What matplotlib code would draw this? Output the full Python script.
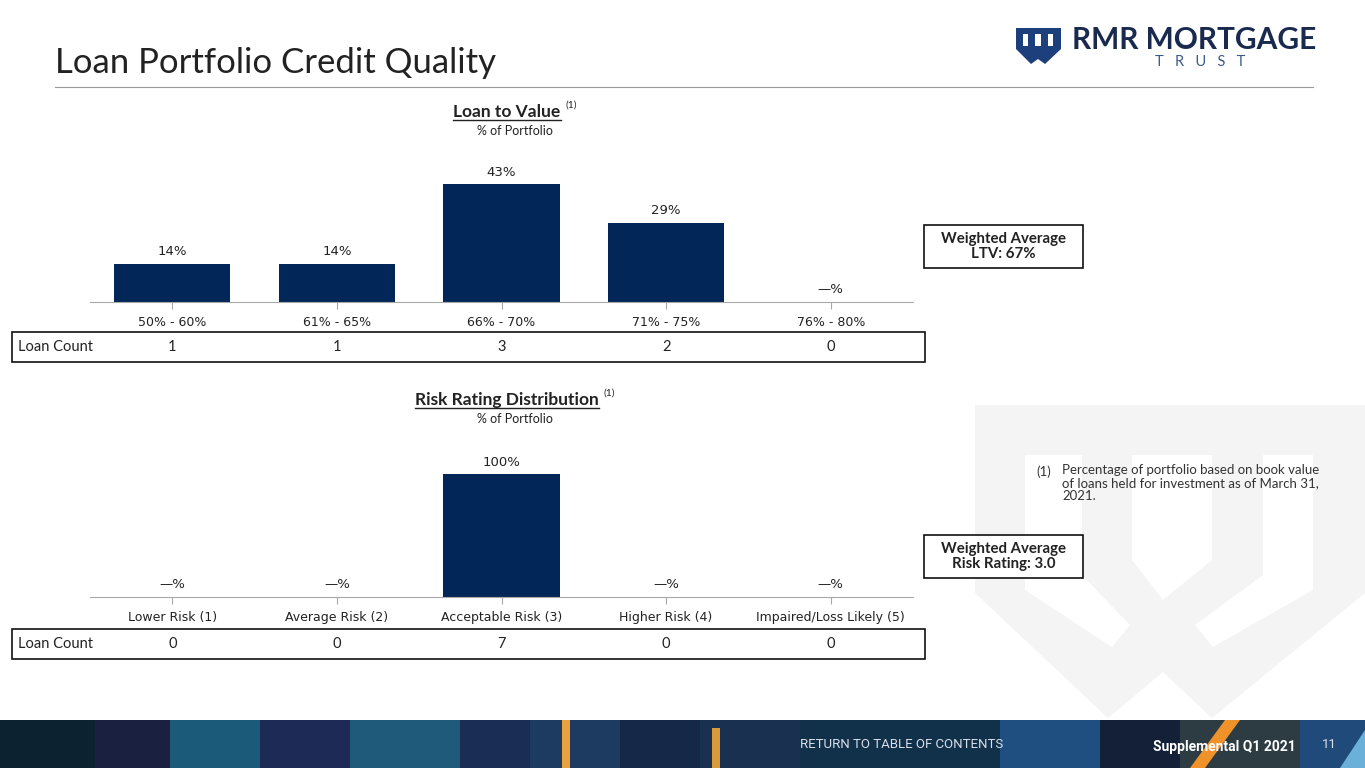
import matplotlib
matplotlib.use("Agg")
import matplotlib.pyplot as plt
from matplotlib.patches import Rectangle, Polygon
from matplotlib.transforms import blended_transform_factory

plt.rcParams['font.family'] = ['Lato', 'DejaVu Sans']

# chart data
ltv_labels = ["50% - 60%", "61% - 65%", "66% - 70%", "71% - 75%", "76% - 80%"]
ltv_share = [14, 14, 43, 29, 0]
ltv_count = [1, 1, 3, 2, 0]

risk_labels = ["Lower Risk (1)", "Average Risk (2)", "Acceptable Risk (3)",
               "Higher Risk (4)", "Impaired/Loss Likely (5)"]
risk_share = [0, 0, 100, 0, 0]
risk_count = [0, 0, 7, 0, 0]

W, H = 1365, 768
NAVY = '#022657'
TXT = '#222222'
CHART_FONT = ['DejaVu Sans']

fig = plt.figure(figsize=(W / 100, H / 100), dpi=100)

# overlay axes in pixel coordinates for decoration
deco = fig.add_axes([0, 0, 1, 1], zorder=0)
deco.set_xlim(0, W)
deco.set_ylim(H, 0)
deco.axis('off')

# faint watermark shield
deco.add_patch(Polygon([(975, 405), (1365, 405), (1365, 593), (1212, 718), (1163, 672),
                        (1108, 718), (975, 593)], closed=True, color='#f4f4f4', lw=0))
for pts in ([(1025, 455), (1082, 455), (1082, 575), (1130, 625), (1112, 647), (1025, 590)],
            [(1263, 455), (1313, 455), (1313, 590), (1213, 647), (1195, 625), (1263, 575)],
            [(1132, 455), (1212, 455), (1212, 560), (1163, 600), (1132, 560)]):
    deco.add_patch(Polygon(pts, closed=True, color='white', lw=0))

# title and rule
deco.text(55, 63, "Loan Portfolio Credit Quality", fontsize=25, color=TXT, va='center')
deco.plot([55, 1313], [87, 87], color='#9a9a9a', lw=0.8)

# logo
deco.add_patch(Polygon([(1016, 28), (1061, 28), (1061, 49), (1045, 64), (1038, 59),
                        (1031, 64), (1016, 49)], closed=True, color='#1d3f7c', lw=0))
for x0, w0 in [(1023, 5), (1035, 6), (1048, 5)]:
    deco.add_patch(Rectangle((x0, 34), w0, 12, color='white', lw=0))
deco.text(1072, 40, "RMR MORTGAGE", fontsize=21.5, fontweight='bold', color='#1a2a4f', va='center')
deco.text(1200, 62, "T   R   U   S   T", fontsize=10.5, color='#3a5a8a', va='center', ha='center')

# footer band
stripes = [(0, 95, '#0d2230'), (95, 170, '#1a2040'), (170, 260, '#1b5a78'), (260, 350, '#1d2a55'),
           (350, 460, '#1f5a7a'), (460, 530, '#1a2e55'), (530, 620, '#1d3a60'), (620, 700, '#152848'),
           (700, 800, '#1a3050'), (800, 1000, '#11304a'), (1000, 1100, '#1e4f80'), (1100, 1180, '#142038'),
           (1180, 1300, '#2c3c42'), (1300, 1365, '#1f4a7a')]
for x0, x1, c in stripes:
    deco.add_patch(Rectangle((x0, 720), x1 - x0, 48, color=c, lw=0))
deco.add_patch(Rectangle((562, 720), 8, 48, color='#e8a040', lw=0))
deco.add_patch(Rectangle((712, 728), 8, 40, color='#d99a3a', lw=0))
deco.add_patch(Polygon([(1190, 768), (1225, 720), (1240, 720), (1205, 768)], closed=True,
                       color='#f0922a', lw=0))
deco.add_patch(Polygon([(1340, 768), (1365, 730), (1365, 768)], closed=True, color='#6ab0d8', lw=0))
deco.text(800, 744, "RETURN TO TABLE OF CONTENTS", fontsize=9.5, color='#d8dee8', va='center',
          family=['Roboto', 'DejaVu Sans'])
deco.text(1153, 747, "Supplemental Q1 2021", fontsize=10, fontweight='bold', color='white', va='center',
          family=['Roboto', 'DejaVu Sans'])
deco.text(1322, 745, "11", fontsize=9.5, color='#d8dee8', va='center',
          family=['Roboto', 'DejaVu Sans'])


def bar_panel(base_px, top_px, ymax, labels, shares, counts, title, title_y, sub_y, box_y):
    ax = fig.add_axes([90 / W, (H - base_px) / H, 823 / W, (base_px - top_px) / H], zorder=2)
    ax.patch.set_alpha(0)
    x = list(range(len(labels)))
    ax.bar(x, shares, width=0.705, color=NAVY)
    ax.set_xlim(-0.5, len(labels) - 0.5)
    ax.set_ylim(0, ymax)
    for s in ['top', 'right', 'left']:
        ax.spines[s].set_visible(False)
    ax.spines['bottom'].set_color('#a8a8a8')
    ax.set_yticks([])
    ax.set_xticks(x)
    ax.set_xticklabels(labels, fontsize=9, color=TXT, family=CHART_FONT)
    ax.tick_params(axis='x', length=5, color='#a8a8a8', pad=5)
    for i, v in enumerate(shares):
        ax.annotate("—%" if v == 0 else f"{v}%", (i, v), xytext=(0, 4), textcoords='offset points',
                    ha='center', va='bottom', fontsize=9.5, color=TXT, family=CHART_FONT)

    # loan count table
    deco.add_patch(Rectangle((12, box_y), 913, 30, fill=False, ec='#111111', lw=1.2))
    deco.text(18, box_y + 15, "Loan Count", fontsize=10.5, color=TXT, va='center')
    tr = blended_transform_factory(ax.transData, deco.transData)
    for i, c in enumerate(counts):
        deco.text(i, box_y + 15, str(c), transform=tr, fontsize=10.5, color=TXT,
                  ha='center', va='center')

    # panel heading
    t = deco.text(507, title_y, title, fontsize=12.5, fontweight='bold', color=TXT,
                  ha='center', va='center')
    fig.canvas.draw()
    bb = t.get_window_extent().transformed(deco.transData.inverted())
    deco.plot([bb.x0, bb.x1], [title_y + 8, title_y + 8], color=TXT, lw=1)
    deco.text(bb.x1 + 5, title_y - 7, "(1)", fontsize=7.5, color=TXT, va='center')
    deco.text(515, sub_y, "% of Portfolio", fontsize=9, color=TXT, ha='center', va='center')
    return ax


bar_panel(302, 165, 50, ltv_labels, ltv_share, ltv_count, "Loan to Value", 112, 131, 332)
bar_panel(597, 462, 110, risk_labels, risk_share, risk_count, "Risk Rating Distribution", 400, 419, 629)

# weighted average boxes
for y0, txt in [(225, "Weighted Average\nLTV: 67%"), (535, "Weighted Average\nRisk Rating: 3.0")]:
    deco.add_patch(Rectangle((924, y0), 159, 43, fc='white', ec='#111111', lw=1.2, zorder=3))
    deco.text(1003.5, y0 + 21.5, txt, fontsize=10.8, fontweight='bold', color=TXT, ha='center',
              va='center', linespacing=1.05, zorder=4)

# footnote
deco.text(1036, 472, "(1)", fontsize=9.5, color='#333333', va='center')
deco.text(1062, 464, "Percentage of portfolio based on book value\nof loans held for investment as of March 31,\n2021.",
          fontsize=9.5, color='#333333', va='top', linespacing=1.1)

fig.savefig("out.png", dpi=100)
